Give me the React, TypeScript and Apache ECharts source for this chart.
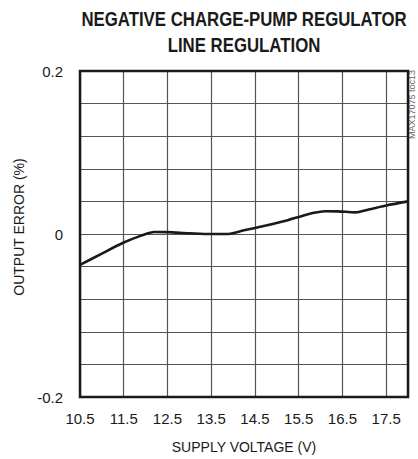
import React, { useEffect, useRef } from "react";
import * as echarts from "echarts";

const X_START = 10.5;
const voltage = [10.5, 11.0, 11.5, 11.9, 12.2, 12.5, 13.0, 13.5, 13.85, 14.25, 14.75, 15.25, 15.5, 15.85, 16.1, 16.4, 16.8, 17.1, 17.5, 18.0];
const outputError = [-0.038, -0.024, -0.0105, -0.002, 0.0025, 0.0023, 0.001, 0.0, 0.0, 0.0045, 0.0105, 0.017, 0.021, 0.026, 0.028, 0.0278, 0.0265, 0.03, 0.035, 0.04];
const xTickLabels = ["10.5", "11.5", "12.5", "13.5", "14.5", "15.5", "16.5", "17.5"];
const yTickLabels = ["-0.2", "0", "0.2"];
const titleLines = ["NEGATIVE CHARGE-PUMP REGULATOR", "LINE REGULATION"];

const FONT = "'Liberation Sans Narrow', 'Liberation Sans', Arial, sans-serif";

export default function App() {
  const ref = useRef<HTMLDivElement>(null);
  useEffect(() => {
    document.body.style.margin = "0";
    const chart = echarts.init(ref.current!, null, { renderer: "svg" });
    const data = voltage.map((v, i) => [v - X_START, outputError[i]]);
    chart.setOption({
      animation: false,
      backgroundColor: "#ffffff",
      grid: {
        left: 80,
        right: 10,
        top: 71,
        bottom: 59,
        show: true,
        borderColor: "#1a1a1a",
        borderWidth: 2.5,
        z: 5,
      },
      graphic: [
        {
          type: "text",
          x: 244,
          y: 6,
          scaleX: 0.8,
          style: {
            text: titleLines.join("\n"),
            x: 0,
            y: 0,
            fill: "#1a1a1a",
            font: `bold 21px ${FONT}`,
            lineHeight: 26,
            textAlign: "center",
          },
        },
        {
          type: "text",
          x: 412,
          y: 70,
          rotation: Math.PI / 2,
          style: {
            text: "MAX17075 toc13",
            fill: "#666666",
            font: "9px 'Liberation Sans', Arial, sans-serif",
            textAlign: "right",
            textVerticalAlign: "middle",
          },
        },
      ],
      xAxis: {
        type: "value",
        min: 0,
        max: 7.5,
        interval: 1,
        name: "SUPPLY VOLTAGE (V)",
        nameLocation: "middle",
        nameGap: 43,
        nameTextStyle: { fontFamily: FONT, fontSize: 14, color: "#1a1a1a" },
        axisLine: { show: false },
        axisTick: { show: false },
        axisLabel: {
          margin: 14,
          fontFamily: FONT,
          fontSize: 15,
          color: "#1a1a1a",
          formatter: (v: number) => {
            const i = Math.round(v);
            if (Math.abs(v - i) > 1e-6) return "";
            return xTickLabels[i] ?? "";
          },
        },
        splitLine: { show: true, lineStyle: { color: "#555555", width: 1.2 } },
      },
      yAxis: {
        type: "value",
        min: -0.2,
        max: 0.2,
        interval: 0.04,
        name: "OUTPUT ERROR (%)",
        nameLocation: "middle",
        nameGap: 52,
        nameTextStyle: { fontFamily: FONT, fontSize: 14, color: "#1a1a1a", padding: [0, 0, 0, 14] },
        axisLine: { show: false },
        axisTick: { show: false },
        axisLabel: {
          margin: 17,
          fontFamily: FONT,
          fontSize: 15,
          color: "#1a1a1a",
          formatter: (v: number) => {
            if (Math.abs(v + 0.2) < 1e-6) return yTickLabels[0];
            if (Math.abs(v) < 1e-6) return yTickLabels[1];
            if (Math.abs(v - 0.2) < 1e-6) return yTickLabels[2];
            return "";
          },
        },
        splitLine: { show: true, lineStyle: { color: "#555555", width: 1.2 } },
      },
      series: [
        {
          type: "line",
          data,
          smooth: 0.3,
          symbol: "none",
          lineStyle: { color: "#1a1a1a", width: 2.6 },
          z: 3,
        },
      ],
    });
    return () => chart.dispose();
  }, []);
  return <div ref={ref} style={{ width: 418, height: 459 }} />;
}
